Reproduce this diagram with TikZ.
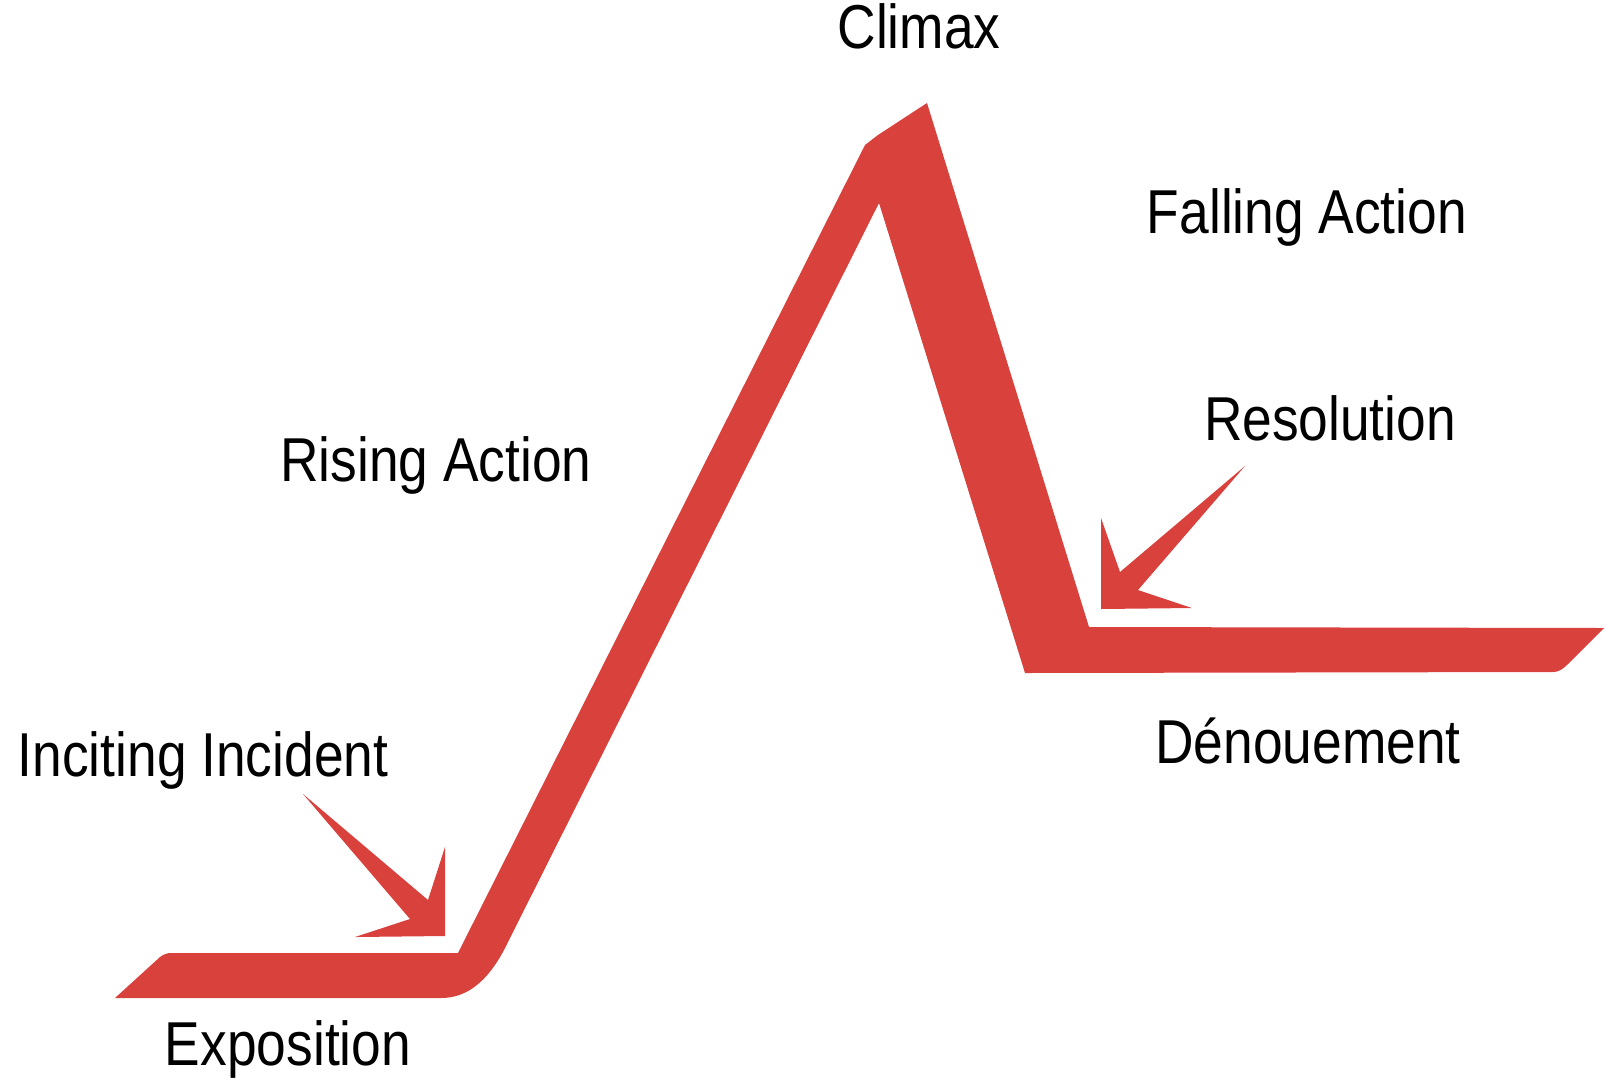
\documentclass[tikz,border=0pt]{standalone}
\usepackage{fontspec}
\setmainfont[FakeStretch=0.86]{Liberation Sans}
\definecolor{plotred}{RGB}{216,65,60}

\begin{document}
\begin{tikzpicture}[x=1pt,y=-1pt,
    lbl/.style={anchor=base,inner sep=0.75pt,font=\fontsize{62}{70}\selectfont}]
        \useasboundingbox (0,0) rectangle (1606,1080);

        %Shape: Polygon Curved [plot line]
        \fill [plotred] (115,998) -- (160,957) .. controls (164,954) and (167,953) .. (172,953) -- (458,953) -- (865,145) -- (878,135) -- (927,103) -- (1089,627) -- (1604,628) -- (1568,664) .. controls (1562,670) and (1558,672) .. (1553,672) -- (1025,673) -- (879,203) -- (504,950) .. controls (488,980) and (468,998) .. (441,998) -- cycle ;
        %Shape: Polygon [inciting arrow]
        \fill [plotred] (303,794) -- (428,900) -- (445,847) -- (445,936) coordinate (inciting tip) -- (355,937) -- (410,919) -- cycle ;
        %Shape: Polygon [resolution arrow]
        \fill [plotred] (1245,466) -- (1120,572) -- (1101,518) -- (1101,609) coordinate (resolution tip) -- (1192,608) -- (1138,590) -- cycle ;

        % Text Node
        \node [lbl] (climax) at (919,48) {Climax};
        % Text Node
        \node [lbl] (falling) at (1307,233) {Falling Action};
        % Text Node
        \node [lbl] (resolution) at (1330,440) {Resolution};
        % Text Node
        \node [lbl] (rising) at (436,481) {Rising Action};
        % Text Node
        \node [lbl] (inciting) at (203,776) {Inciting Incident};
        % Text Node
        \node [lbl] (denouement) at (1308,763) {Dénouement};
        % Text Node
        \node [lbl] (exposition) at (288,1065) {Exposition};

\end{tikzpicture}
\end{document}
